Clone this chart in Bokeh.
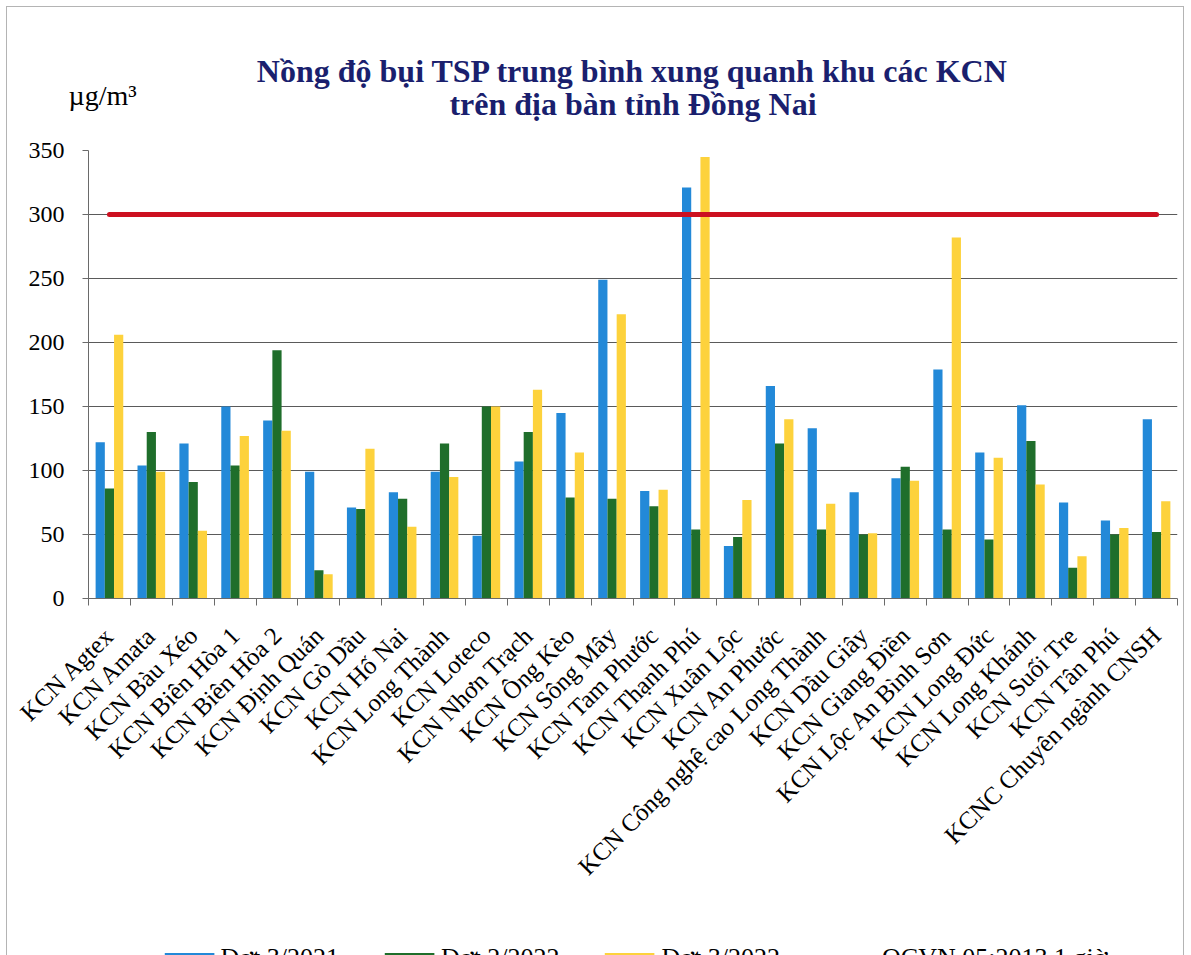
import numpy as np
from math import pi
from bokeh.plotting import figure
from bokeh.models import Range1d, FixedTicker, Legend, LegendItem, Title
from bokeh.embed import file_html
from bokeh.resources import INLINE

categories = [
    "KCN Agtex", "KCN Amata", "KCN Bàu Xéo", "KCN Biên Hòa 1", "KCN Biên Hòa 2",
    "KCN Định Quán", "KCN Gò Dầu", "KCN Hố Nai", "KCN Long Thành", "KCN Loteco",
    "KCN Nhơn Trạch", "KCN Ông Kèo", "KCN Sông Mây", "KCN Tam Phước", "KCN Thạnh Phú",
    "KCN Xuân Lộc", "KCN An Phước", "KCN Công nghệ cao Long Thành", "KCN Dầu Giây",
    "KCN Giang Điền", "KCN Lộc An Bình Sơn", "KCN Long Đức", "KCN Long Khánh",
    "KCN Suối Tre", "KCN Tân Phú", "KCNC Chuyên ngành CNSH",
]
dot_3_2021 = [122, 104, 121, 150, 139, 99, 71, 83, 99, 49, 107, 145, 249, 84, 321,
              41, 166, 133, 83, 94, 179, 114, 151, 75, 61, 140]
dot_2_2022 = [86, 130, 91, 104, 194, 22, 70, 78, 121, 150, 130, 79, 78, 72, 54,
              48, 121, 54, 50, 103, 54, 46, 123, 24, 50, 52]
dot_3_2022 = [206, 99, 53, 127, 131, 19, 117, 56, 95, 150, 163, 114, 222, 85, 345,
              77, 140, 74, 51, 92, 282, 110, 89, 33, 55, 76]
series_names = ["Đợt 3/2021", "Đợt 2/2022", "Đợt 3/2022"]
limit_name = "QCVN 05:2013 1 giờ"
qcvn_limit = 300
y_ticks = [0, 50, 100, 150, 200, 250, 300, 350]
title_lines = ["Nồng độ bụi TSP trung bình xung quanh khu các KCN",
               "trên địa bàn tỉnh Đồng Nai"]
unit_label = "µg/m³"

BLUE = "#2389d8"
GREEN = "#1f6e2b"
YELLOW = "#fdd23c"
RED = "#cc1020"
NAVY = "#1a1f6e"
AXIS = "#6a6a6a"
SERIF = "Liberation Serif"

n = len(categories)
centers = np.arange(n) + 0.5
bounds = list(np.arange(n + 1).astype(float))
bw = 0.22

p = figure(
    frame_width=1089, frame_height=448,
    min_border_left=88, min_border_right=13, min_border_top=150, min_border_bottom=355,
    x_range=Range1d(0, n), y_range=Range1d(0, max(y_ticks)),
    output_backend="svg", toolbar_location=None, title=None,
    styles={"box-shadow": "inset 0 0 0 6px #ffffff, inset 0 0 0 7px #b4b4b4"},
)
p.outline_line_color = None
p.background_fill_color = "white"
p.border_fill_alpha = 0

r1 = p.vbar(x=centers - bw, top=dot_3_2021, width=bw, fill_color=BLUE, line_color=None)
r2 = p.vbar(x=centers, top=dot_2_2022, width=bw, fill_color=GREEN, line_color=None)
r3 = p.vbar(x=centers + bw, top=dot_3_2022, width=bw, fill_color=YELLOW, line_color=None)
rl = p.line(x=[centers[0], centers[-1]], y=[qcvn_limit, qcvn_limit],
            line_color=RED, line_width=5, line_cap="round")

# titles (first added sits nearest to the plot; negative standoffs let texts share a row)
title_style = dict(align="center", text_font=SERIF, text_font_style="bold",
                   text_font_size="32px", text_color=NAVY)
p.add_layout(Title(text=title_lines[1], standoff=58, **title_style), "above")
p.add_layout(Title(text=unit_label, align="left", offset=-20, text_font=SERIF,
                   text_font_style="normal", text_font_size="28px",
                   text_color="black", standoff=-113), "above")
p.add_layout(Title(text=title_lines[0], standoff=-68, **title_style), "above")

# y axis
p.yaxis.ticker = FixedTicker(ticks=y_ticks)
p.yaxis.major_label_text_font = SERIF
p.yaxis.major_label_text_font_size = "24px"
p.yaxis.major_label_text_color = "black"
p.yaxis.major_tick_out = 6
p.yaxis.major_tick_in = 0
p.yaxis.minor_tick_out = 0
p.yaxis.minor_tick_in = 0
p.yaxis.major_label_standoff = 18
p.yaxis.axis_line_color = AXIS
p.yaxis.major_tick_line_color = AXIS

# x axis: labels at category centres, ticks at category boundaries
p.xaxis.ticker = FixedTicker(ticks=list(centers), minor_ticks=bounds)
p.xaxis.major_label_overrides = {float(c): name for c, name in zip(centers, categories)}
p.xaxis.major_label_orientation = pi / 4
p.xaxis.major_label_text_font = SERIF
p.xaxis.major_label_text_font_size = "25px"
p.xaxis.major_label_text_color = "black"
p.xaxis.major_tick_out = 0
p.xaxis.major_tick_in = 0
p.xaxis.minor_tick_out = 7
p.xaxis.minor_tick_in = 0
p.xaxis.major_label_standoff = 26
p.xaxis.axis_line_color = AXIS
p.xaxis.minor_tick_line_color = AXIS

p.xgrid.grid_line_color = None
p.ygrid.ticker = FixedTicker(ticks=y_ticks)
p.ygrid.grid_line_color = "#5a5a5a"
p.ygrid.grid_line_width = 1

legend = Legend(
    items=[LegendItem(label=series_names[0], renderers=[r1]),
           LegendItem(label=series_names[1], renderers=[r2]),
           LegendItem(label=series_names[2], renderers=[r3]),
           LegendItem(label=limit_name, renderers=[rl])],
    location="top_center", orientation="horizontal",
    glyph_width=62, glyph_height=14, label_standoff=1, spacing=39,
    padding=0, border_line_alpha=0, background_fill_alpha=0,
    label_text_font=SERIF, label_text_font_size="26px", label_text_color="black",
)
try:
    legend.margin = -92   # pull the legend up into the space left under the labels
except Exception:
    legend.margin = 0
p.add_layout(legend, "below")

open("out.html", "w").write(file_html(p, INLINE))
